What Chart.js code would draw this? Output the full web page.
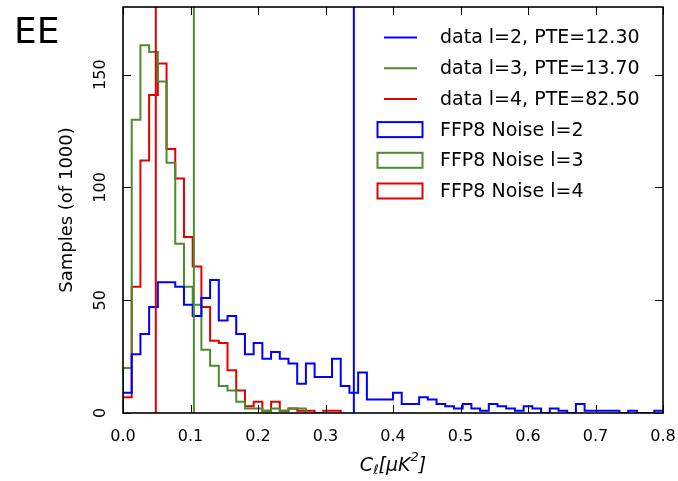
<!DOCTYPE html>
<html><head><meta charset="utf-8">
<script src="https://cdn.jsdelivr.net/npm/chart.js@4.4.1/dist/chart.umd.min.js"></script>
<style>html,body{margin:0;padding:0;background:#fff}</style>
</head><body>
<canvas id="c" width="678" height="481"></canvas>
<script>
// ---- data ----
const binStart = 0.0;
const binWidth = 0.8 / 62;
const noiseL2 = [9,26,35,47,58,58,56,48,43,51,59,41,43,35,26,31,24,27,24,22,13,22,16,16,24,12,9,18,6,6,6,9,4,4,7,6,4,3,2,4,2,1,4,3,2,1,3,2,0,2,1,0,4,1,1,1,1,0,1,0,0,1];
const noiseL3 = [20,130,163,160,147,111,75,56,48,28,21,12,10,5,2,2,1,2,1,2,2];
const noiseL4 = [7,56,112,141,155,117,104,78,65,47,32,31,19,10,3,5,1,5,1,2,1,1,0,1,1];
const dataValues = [0.342, 0.105, 0.0486];
const dataLabels = ['data l=2, PTE=12.30', 'data l=3, PTE=13.70', 'data l=4, PTE=82.50'];
const noiseLabels = ['FFP8 Noise l=2', 'FFP8 Noise l=3', 'FFP8 Noise l=4'];
const colors = ['#0000ff', '#4c8c2c', '#e30000'];
const xTicks = [0.0, 0.1, 0.2, 0.3, 0.4, 0.5, 0.6, 0.7, 0.8];
const yTicks = [0, 50, 100, 150];
const xMin = 0, xMax = 0.8, yMin = 0, yMax = 180;

function histPoints(counts){
  const pts = [{x: binStart, y: 0}];
  counts.forEach((c, i) => pts.push({x: binStart + i * binWidth, y: c}));
  pts.push({x: binStart + counts.length * binWidth, y: 0});
  return pts;
}
function vline(v){ return [{x: v, y: yMin}, {x: v, y: yMax}]; }

const noise = [noiseL2, noiseL3, noiseL4];
const datasets = [];
dataValues.forEach((v, i) => datasets.push({
  label: dataLabels[i], data: vline(v), showLine: true, borderColor: colors[i],
  borderWidth: 2, pointRadius: 0, fill: false, kind: 'line'
}));
noise.forEach((arr, i) => datasets.push({
  label: noiseLabels[i], data: histPoints(arr), showLine: true, stepped: 'before',
  borderColor: colors[i], borderWidth: 2, pointRadius: 0, fill: false, kind: 'hist'
}));

const FONT = 'DejaVu Sans';

const decor = {
  id: 'decor',
  afterDraw(chart){
    const {ctx, chartArea: a, scales: {x, y}} = chart;
    ctx.save();
    // inward ticks on all sides
    ctx.strokeStyle = '#000'; ctx.lineWidth = 1;
    xTicks.forEach(v => {
      const px = Math.round(x.getPixelForValue(v)) + 0.5;
      ctx.beginPath();
      ctx.moveTo(px, a.bottom); ctx.lineTo(px, a.bottom - 8);
      ctx.moveTo(px, a.top); ctx.lineTo(px, a.top + 8);
      ctx.stroke();
    });
    yTicks.forEach(v => {
      const py = Math.round(y.getPixelForValue(v)) + 0.5;
      ctx.beginPath();
      ctx.moveTo(a.left, py); ctx.lineTo(a.left + 8, py);
      ctx.moveTo(a.right, py); ctx.lineTo(a.right - 8, py);
      ctx.stroke();
    });
    // frame
    ctx.lineWidth = 1.6; ctx.strokeStyle = '#000';
    ctx.strokeRect(a.left, a.top, a.right - a.left, a.bottom - a.top);

    // y tick labels (rotated)
    ctx.fillStyle = '#000';
    ctx.font = '16px ' + FONT;
    ctx.textAlign = 'center'; ctx.textBaseline = 'middle';
    yTicks.forEach(v => {
      const py = y.getPixelForValue(v);
      ctx.save(); ctx.translate(a.left - 22, py); ctx.rotate(-Math.PI / 2);
      ctx.fillText(String(v), 0, 0); ctx.restore();
    });
    // y axis title
    ctx.save(); ctx.translate(67, (a.top + a.bottom) / 2); ctx.rotate(-Math.PI / 2);
    ctx.font = '18px ' + FONT;
    ctx.fillText('Samples (of 1000)', 0, 0); ctx.restore();

    // x axis title: C_ℓ[μK^2]
    const cx = (a.left + a.right) / 2, cy = 466;
    const big = 'italic 19px ' + FONT, small = 'italic 13px ' + FONT;
    const parts = [
      {t: 'C', f: big, dy: 0}, {t: 'ℓ', f: small, dy: 5},
      {t: '[μK', f: big, dy: 0}, {t: '2', f: small, dy: -8}, {t: ']', f: big, dy: 0}
    ];
    let total = 0;
    parts.forEach(p => { ctx.font = p.f; p.w = ctx.measureText(p.t).width; total += p.w; });
    let px = cx - total / 2;
    ctx.textAlign = 'left';
    parts.forEach(p => { ctx.font = p.f; ctx.fillText(p.t, px, cy + p.dy); px += p.w; });

    // panel title
    ctx.font = '36px ' + FONT; ctx.textBaseline = 'middle';
    ctx.fillText('EE', 14, 34);

    // legend
    const rowY0 = 37.5, rowH = 30.7;
    chart.data.datasets.forEach((ds, i) => {
      const ry = rowY0 + i * rowH;
      ctx.strokeStyle = ds.borderColor; ctx.lineWidth = 2;
      if (ds.kind === 'line') {
        ctx.beginPath(); ctx.moveTo(384, ry); ctx.lineTo(417, ry); ctx.stroke();
      } else {
        ctx.strokeRect(377.5, ry - 7.5, 45, 15);
      }
      ctx.fillStyle = '#000'; ctx.font = '19px ' + FONT;
      ctx.textAlign = 'left'; ctx.textBaseline = 'middle';
      ctx.fillText(ds.label, 440, ry + 1);
    });
    ctx.restore();
  }
};

new Chart(document.getElementById('c'), {
  type: 'scatter',
  data: {datasets},
  options: {
    responsive: false, animation: false, devicePixelRatio: 1,
    layout: {padding: {left: 0, top: 7, right: 15, bottom: 0}},
    plugins: {legend: {display: false}, tooltip: {enabled: false}},
    scales: {
      x: {
        type: 'linear', min: xMin, max: xMax,
        afterBuildTicks: s => { s.ticks = xTicks.map(v => ({value: v})); },
        afterFit: s => { s.height = 68; s.paddingLeft = 0; s.paddingRight = 0; },
        grid: {display: false, drawTicks: false},
        border: {display: false},
        ticks: {color: '#000', padding: 14, font: {family: FONT, size: 16},
                callback: v => Number(v).toFixed(1), maxRotation: 0, autoSkip: false}
      },
      y: {
        type: 'linear', min: yMin, max: yMax,
        afterBuildTicks: s => { s.ticks = yTicks.map(v => ({value: v})); },
        afterFit: s => { s.width = 123; s.paddingTop = 0; s.paddingBottom = 0; },
        grid: {display: false, drawTicks: false},
        border: {display: false},
        ticks: {display: false}
      }
    }
  },
  plugins: [decor]
});
</script>
</body></html>
